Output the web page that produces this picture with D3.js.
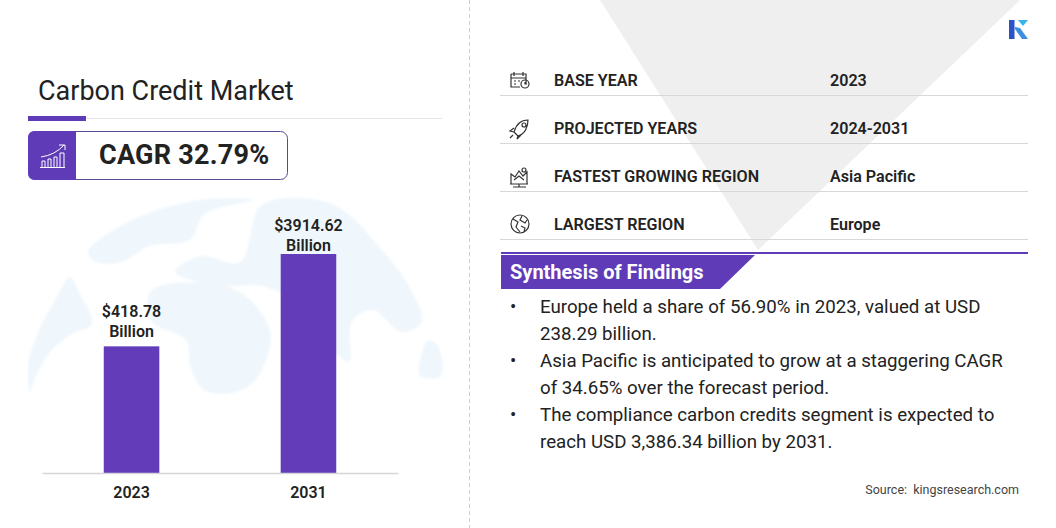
<!DOCTYPE html>
<html>
<head>
<meta charset="utf-8">
<script src="https://d3js.org/d3.v7.min.js"></script>
<style>
  html, body { margin: 0; padding: 0; background: #fff; }
  svg { display: block; }
  text { font-family: Roboto, sans-serif; fill: #222; }
  .axis path { stroke: #d5d5da; stroke-width: 1.5px; }
  .axis text { font-size: 16px; font-weight: 600; fill: #222; }
  .icon * { fill: none; stroke: #333; stroke-width: 1.2px; }
</style>
</head>
<body>
<script>
var years = ["2023", "2031"];
var values = [418.78, 3914.62];
var valueLabels = ["$418.78", "$3914.62"];

var rowLabels = ["BASE YEAR", "PROJECTED YEARS", "FASTEST GROWING REGION", "LARGEST REGION"];
var rowValues = ["2023", "2024-2031", "Asia Pacific", "Europe"];

var findings = [
  ["Europe held a share of 56.90% in 2023, valued at USD", "238.29 billion."],
  ["Asia Pacific is anticipated to grow at a staggering CAGR", "of 34.65% over the forecast period."],
  ["The compliance carbon credits segment is expected to", "reach USD 3,386.34 billion by 2031."]
];

var purple = "#5f3bb8";
var svg = d3.select("body").append("svg").attr("width", 1056).attr("height", 528);

var blur = svg.append("defs").append("filter").attr("id", "soft");
blur.append("feGaussianBlur").attr("stdDeviation", 1.2);

// pale grey triangle behind the table
svg.append("polygon").attr("points", "600,0 1020,0 758,250").attr("fill", "#efefef");

// pale world map behind the bars, rough shapes only
var globe = [
  [[30,392],[28,365],[38,332],[55,300],[70,277],[79,292],[92,324],[72,334],[52,350],[36,376]],
  [[88,252],[128,222],[198,200],[252,200],[205,214],[190,240],[150,246],[122,262],[96,262]],
  [[175,272],[200,256],[240,262],[262,205],[332,204],[382,250],[410,288],[422,322],[402,332],[372,310],[352,322],[349,362],[326,342],[300,306],[262,286],[222,286]],
  [[150,292],[190,282],[240,292],[270,330],[262,370],[242,390],[205,391],[190,366],[186,340],[152,322]],
  [[419,374],[428,340],[438,346],[441,376],[424,378]]
];
var blob = d3.line().curve(d3.curveCatmullRomClosed);
svg.append("g").attr("filter", "url(#soft)").selectAll("path").data(globe).join("path")
  .attr("d", function(d) { return blob(d); })
  .attr("fill", "#f0f7fc");

// dashed divider
svg.append("line").attr("x1", 469.5).attr("x2", 469.5).attr("y1", 0).attr("y2", 528)
  .attr("stroke", "#cfcfcf").attr("stroke-dasharray", "4,3");

// logo
svg.append("rect").attr("x", 1009).attr("y", 20).attr("width", 5.5).attr("height", 19).attr("fill", "#2a52c9");
svg.append("polygon").attr("points", "1015,29 1022,39 1028,39 1020,28 1015,27").attr("fill", "#3a8fe0");
svg.append("polygon").attr("points", "1018,20 1028,20 1023,26").attr("fill", "#35b5e8");

// title
svg.append("text").attr("x", 38).attr("y", 100).attr("font-size", 27).text("Carbon Credit Market");
svg.append("line").attr("x1", 28).attr("x2", 442).attr("y1", 118.5).attr("y2", 118.5).attr("stroke", "#e6e6ea");
svg.append("rect").attr("x", 28).attr("y", 116).attr("width", 58).attr("height", 5).attr("fill", purple);

// CAGR box
svg.append("rect").attr("x", 28.5).attr("y", 131.5).attr("width", 259).attr("height", 48).attr("rx", 7)
  .attr("fill", "#fff").attr("stroke", "#5b4a93");
svg.append("path").attr("d", "M35,131 H76 V180 H35 Q28,180 28,173 V138 Q28,131 35,131 Z").attr("fill", purple);
var cagrIcon = svg.append("g").attr("fill", "none").attr("stroke", "#fff").attr("stroke-width", 1);
cagrIcon.append("path").attr("d", "M40,167.5 H65 M42,167 V161 H45 V167 M48,167 V159 H51 V167 M54,167 V157 H57 V167 M60,167 V153 H64 V167");
cagrIcon.append("path").attr("d", "M41,157 Q55,155 64,145 M59,145 H65 V150");
svg.append("text").attr("x", 99).attr("y", 164).attr("font-size", 27).attr("font-weight", 700)
  .attr("letter-spacing", 0.25).text("CAGR 32.79%");

// bars: the picture does not draw them to linear scale, so a power scale is fitted to its heights
var x = d3.scaleBand().domain(years).range([42, 398]).paddingInner(0.686).paddingOuter(0.349);
var y = d3.scalePow().exponent(0.245).domain([0, 3914.62]).range([473, 254]);

svg.append("g").selectAll("rect").data(values).join("rect")
  .attr("x", function(d, i) { return x(years[i]); })
  .attr("y", function(d) { return y(d); })
  .attr("width", x.bandwidth())
  .attr("height", function(d) { return y(0) - y(d); })
  .attr("fill", "#633cb9");

svg.append("g").attr("class", "axis").attr("transform", "translate(0,473)")
  .call(d3.axisBottom(x).tickSize(0).tickPadding(14));

// label gap above the bar differs between the two bars in the picture
var barLabels = svg.append("g").selectAll("text").data(values).join("text")
  .attr("text-anchor", "middle")
  .attr("font-size", 16).attr("font-weight", 600)
  .attr("x", function(d, i) { return x(years[i]) + x.bandwidth() / 2; })
  .attr("y", function(d, i) { return y(d) - (i == 0 ? 29 : 23); });
barLabels.append("tspan").text(function(d, i) { return valueLabels[i]; });
barLabels.append("tspan").text("Billion")
  .attr("x", function(d, i) { return x(years[i]) + x.bandwidth() / 2; })
  .attr("dy", 19.5);

// table rows
var rowY = d3.scalePoint().domain(rowLabels).range([86, 230]);
var rows = svg.append("g").selectAll("g").data(rowLabels).join("g")
  .attr("transform", function(d) { return "translate(0," + rowY(d) + ")"; });
rows.append("text").attr("x", 554).attr("font-size", 16.1).attr("font-weight", 600)
  .text(function(d) { return d; });
rows.append("text").attr("x", 830).attr("font-size", 16.1).attr("font-weight", 600)
  .text(function(d, i) { return rowValues[i]; });
rows.append("line").attr("x1", 500).attr("x2", 1028).attr("y1", 9.5).attr("y2", 9.5)
  .attr("stroke", "#d8d8d8");

// row icons
var iconPaths = [
  "M511,74 H526 V84 M511,74 V87 H520 M511,78 H526 M514,72 V76 M523,72 V76 M514,81 H516 M518,81 H520 M514,84 H516 M521,84 a4,4 0 1,0 8,0 a4,4 0 1,0 -8,0 M525,82 V84 H527",
  "M528,120 C521,120 516,125 514,132 L518,136 C525,134 528,127 528,120 Z M514,128 L510,131 L514,132 M518,136 L517,139 L521,135 M513,135 L510,138 M522,125 a2,2 0 1,0 4,0 a2,2 0 1,0 -4,0",
  "M510,184 H528 M511,184 V174 L515,177 L519,171 L523,176 L527,172 V184 M513,187 H526 M519,184 V187 M514,180 L519,176 L524,180 M522,170 a2,2 0 1,0 4,0 a2,2 0 1,0 -4,0",
  "M511,224 a9,9 0 1,0 18,0 a9,9 0 1,0 -18,0 M513,219 L518,222 L516,227 L520,232 M522,216 L520,220 L525,223 L527,220 M521,226 L525,228 L524,232"
];
svg.append("g").attr("class", "icon").selectAll("path").data(iconPaths).join("path")
  .attr("d", function(d) { return d; });

// synthesis banner
svg.append("rect").attr("x", 501).attr("y", 252).attr("width", 527).attr("height", 2).attr("fill", purple);
svg.append("polygon").attr("points", "501,255 755,255 720,289 501,289").attr("fill", purple);
svg.append("text").attr("x", 510).attr("y", 279).attr("font-size", 20).attr("font-weight", 700)
  .style("fill", "#fff").text("Synthesis of Findings");

// findings list
var lineY = 313;
findings.forEach(function(lines) {
  svg.append("text").attr("x", 510).attr("y", lineY).attr("font-size", 18.7).text("•");
  lines.forEach(function(line) {
    svg.append("text").attr("x", 540).attr("y", lineY).attr("font-size", 18.7).text(line);
    lineY += 27;
  });
});

svg.append("text").attr("x", 1019).attr("y", 494).attr("text-anchor", "end").attr("font-size", 12.5)
  .attr("word-spacing", 3).style("fill", "#444").text("Source: kingsresearch.com");
</script>
</body>
</html>
